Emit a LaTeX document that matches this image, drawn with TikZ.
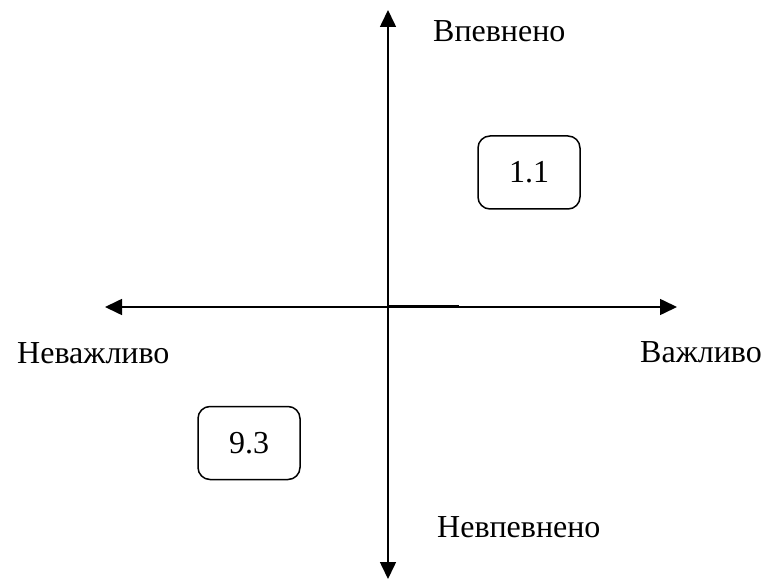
\documentclass[tikz,border=0pt]{standalone}
\usepackage{fontspec}
\setmainfont{Liberation Serif}
\usetikzlibrary{arrows.meta}
\begin{document}
\begin{tikzpicture}[x=1pt,y=-1pt,
  axis/.style={line width=1.6pt,-{Triangle[length=17pt,width=16pt]}},
  valbox/.style={draw,line width=1.5pt,rounded corners=12pt,minimum width=102pt,minimum height=73pt,inner sep=0pt,font=\fontsize{32}{38}\selectfont},
  lbl/.style={anchor=base west,inner sep=0pt,font=\fontsize{32}{38}\selectfont}]
\useasboundingbox (0,0) rectangle (766,580);
\coordinate (c) at (388,307);
\coordinate (top) at (388,10);
\coordinate (bot) at (388,579);
\coordinate (lft) at (105,307);
\coordinate (rgt) at (677,307);
\coordinate (s1) at (388,306);
\coordinate (s2) at (459,306);
\draw[axis] (c) -- (top);
\draw[axis] (c) -- (bot);
\draw[axis] (c) -- (lft);
\draw[axis] (c) -- (rgt);
\draw[line width=2.4pt] (s1) -- (s2);
\node[valbox] (b1) at (529,172.5) {1.1};
\node[valbox] (b2) at (249,443) {9.3};
\node[lbl] (t) at (433,42) {Впевнено};
\node[lbl] (n) at (437,537) {Невпевнено};
\node[lbl] (l) at (17,363) {Неважливо};
\node[lbl] (r) at (640,362) {Важливо};
\end{tikzpicture}
\end{document}
